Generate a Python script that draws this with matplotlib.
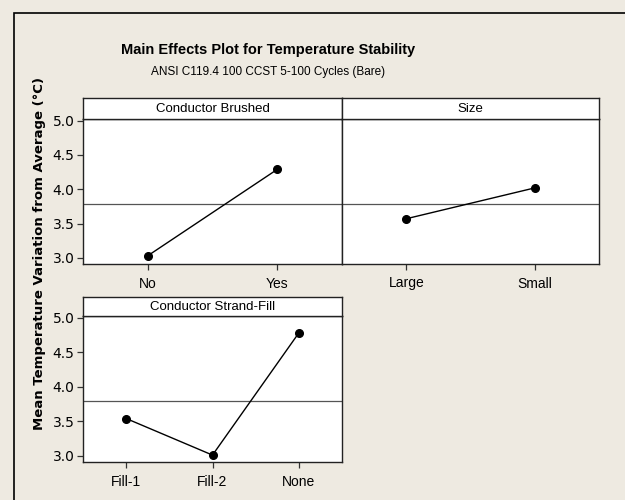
import matplotlib
matplotlib.use("Agg")
import matplotlib.pyplot as plt
from matplotlib.patches import Rectangle

# data
brushed_levels = ["No", "Yes"]
brushed_means = [3.03, 4.29]
size_levels = ["Large", "Small"]
size_means = [3.57, 4.02]
fill_levels = ["Fill-1", "Fill-2", "None"]
fill_means = [3.54, 3.01, 4.78]
grand_mean = 3.79
yticks = [3.0, 3.5, 4.0, 4.5, 5.0]

BG = "#eeeae1"
NARROW = ["Liberation Sans", "DejaVu Sans"]
W, H = 625, 500


def px_axes(fig, left, top, right, bottom):
    return fig.add_axes([left / W, 1 - bottom / H, (right - left) / W, (bottom - top) / H])


def strip(fig, left, top, right, bottom, label):
    ax = px_axes(fig, left, top, right, bottom)
    ax.set_xticks([])
    ax.set_yticks([])
    ax.set_facecolor("white")
    for s in ax.spines.values():
        s.set_linewidth(1.0)
        s.set_color("#222222")
    ax.text(0.5, 0.5, label, ha="center", va="center", fontsize=9.5,
            family=NARROW, transform=ax.transAxes)
    return ax


def panel(fig, box, levels, means, show_y):
    ax = px_axes(fig, *box)
    ax.set_facecolor("white")
    x = list(range(len(levels)))
    ax.axhline(grand_mean, color="#555555", lw=0.9, zorder=1)
    ax.plot(x, means, color="black", lw=1.0, marker="o", ms=5.5, zorder=3)
    ax.set_xlim(-0.5, len(levels) - 0.5)
    ax.set_ylim(2.91, 5.025)
    ax.set_xticks(x)
    ax.set_xticklabels(levels, fontsize=10, family=NARROW)
    ax.set_yticks(yticks)
    ax.set_yticklabels([f"{v:.1f}" for v in yticks], fontsize=10)
    ax.tick_params(direction="out", length=4, width=0.9, color="#333333", pad=2)
    ax.tick_params(axis="x", pad=5)
    if not show_y:
        ax.tick_params(axis="y", left=False, labelleft=False)
    for s in ax.spines.values():
        s.set_linewidth(1.0)
        s.set_color("#222222")
    return ax


fig = plt.figure(figsize=(6.25, 5), dpi=100, facecolor=BG)

# outer frame (only top/left edges visible in the reference)
fig.patches.append(Rectangle((14 / W, -0.1), 1.1, 1 - 13 / H + 0.1, transform=fig.transFigure,
                             fill=False, edgecolor="black", lw=1.2))

panel(fig, (83, 119, 342, 264), brushed_levels, brushed_means, True)
strip(fig, 83, 98, 342, 119, "Conductor Brushed")
panel(fig, (342, 119, 599, 264), size_levels, size_means, False)
strip(fig, 342, 98, 599, 119, "Size")
panel(fig, (83, 316, 342, 462), fill_levels, fill_means, True)
strip(fig, 83, 297, 342, 316, "Conductor Strand-Fill")

fig.text(268 / W, 1 - 50 / H, "Main Effects Plot for Temperature Stability", ha="center", va="center",
         fontsize=10.5, fontweight="bold", family=NARROW)
fig.text(268 / W, 1 - 72 / H, "ANSI C119.4 100 CCST 5-100 Cycles (Bare)", ha="center", va="center",
         fontsize=8.5, family=NARROW)
fig.text(40 / W, 1 - 253 / H, "Mean Temperature Variation from Average (°C)", rotation=90,
         ha="center", va="center", fontsize=9.5, fontweight="bold")

fig.savefig("out.png", dpi=100, facecolor=BG)
